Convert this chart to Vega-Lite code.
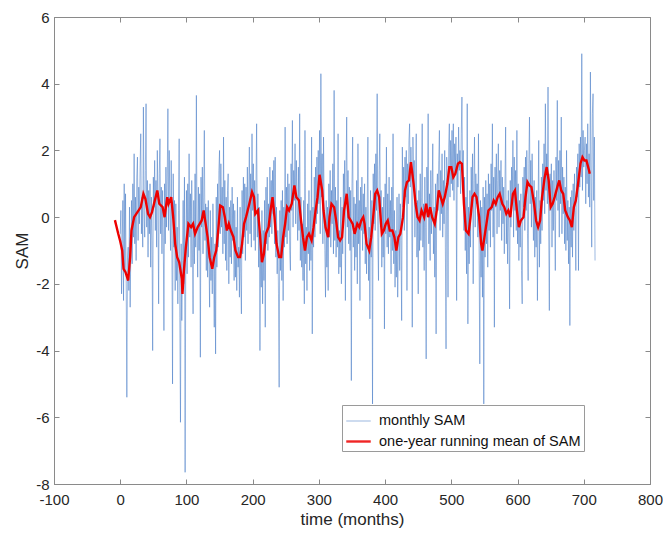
{
"$schema":"https://vega.github.io/schema/vega-lite/v6.json",
"width":596,"height":467,
"autosize":{"type":"none"},
"padding":{"left":54,"top":17,"right":13,"bottom":50},
"background":"white",
"config":{"view":{"stroke":"#8a8a8a","strokeWidth":1},"font":"Liberation Sans"},
"datasets":{
"monthly":[
{"t":0,"m":-0.5},{"t":1,"m":0.2},{"t":2,"m":-2.3},{"t":3,"m":-0.8},{"t":4,"m":0.5},{"t":5,"m":-2.5},{"t":6,"m":1.0},{"t":7,"m":-1.6},{"t":8,"m":0.7},{"t":9,"m":-2.0},{"t":10,"m":-5.4},{"t":11,"m":-1.2},
{"t":12,"m":-0.9},{"t":13,"m":-2.2},{"t":14,"m":0.3},{"t":15,"m":-2.7},{"t":16,"m":-1.0},{"t":17,"m":0.5},{"t":18,"m":-1.4},{"t":19,"m":1.0},{"t":20,"m":-0.6},{"t":21,"m":1.9},{"t":22,"m":-0.8},{"t":23,"m":0.6},
{"t":24,"m":-1.3},{"t":25,"m":1.2},{"t":26,"m":1.8},{"t":27,"m":-0.7},{"t":28,"m":0.9},{"t":29,"m":-0.2},{"t":30,"m":1.5},{"t":31,"m":2.5},{"t":32,"m":-0.5},{"t":33,"m":0.6},{"t":34,"m":-0.9},{"t":35,"m":3.3},
{"t":36,"m":0.2},{"t":37,"m":-0.6},{"t":38,"m":1.4},{"t":39,"m":3.4},{"t":40,"m":-0.3},{"t":41,"m":1.1},{"t":42,"m":-1.2},{"t":43,"m":0.8},{"t":44,"m":-0.5},{"t":45,"m":1.0},{"t":46,"m":-1.5},{"t":47,"m":0.6},
{"t":48,"m":-0.7},{"t":49,"m":-4.0},{"t":50,"m":1.2},{"t":51,"m":0.3},{"t":52,"m":1.7},{"t":53,"m":-0.4},{"t":54,"m":1.1},{"t":55,"m":-0.9},{"t":56,"m":2.0},{"t":57,"m":0.4},{"t":58,"m":-2.6},{"t":59,"m":1.3},
{"t":60,"m":2.35},{"t":61,"m":-0.5},{"t":62,"m":0.9},{"t":63,"m":-1.1},{"t":64,"m":0.8},{"t":65,"m":-0.6},{"t":66,"m":-3.4},{"t":67,"m":1.0},{"t":68,"m":-0.8},{"t":69,"m":1.5},{"t":70,"m":-0.3},{"t":71,"m":1.2},
{"t":72,"m":3.25},{"t":73,"m":-0.4},{"t":74,"m":2.0},{"t":75,"m":0.3},{"t":76,"m":-1.0},{"t":77,"m":1.7},{"t":78,"m":-0.7},{"t":79,"m":-5.0},{"t":80,"m":1.3},{"t":81,"m":-0.9},{"t":82,"m":0.5},{"t":83,"m":-2.2},
{"t":84,"m":0.4},{"t":85,"m":-1.9},{"t":86,"m":-0.3},{"t":87,"m":-2.6},{"t":88,"m":0.2},{"t":89,"m":2.35},{"t":90,"m":-3.0},{"t":91,"m":-6.15},{"t":92,"m":-0.8},{"t":93,"m":-3.1},{"t":94,"m":-1.3},{"t":95,"m":0.5},
{"t":96,"m":-2.0},{"t":97,"m":1.2},{"t":98,"m":-7.65},{"t":99,"m":-1.0},{"t":100,"m":0.8},{"t":101,"m":-1.7},{"t":102,"m":1.0},{"t":103,"m":-1.2},{"t":104,"m":1.9},{"t":105,"m":-0.6},{"t":106,"m":0.7},{"t":107,"m":-1.5},
{"t":108,"m":1.1},{"t":109,"m":-0.8},{"t":110,"m":-2.9},{"t":111,"m":0.5},{"t":112,"m":-1.4},{"t":113,"m":1.3},{"t":114,"m":-0.9},{"t":115,"m":3.65},{"t":116,"m":-0.5},{"t":117,"m":-1.8},{"t":118,"m":0.9},{"t":119,"m":-1.0},
{"t":120,"m":0.7},{"t":121,"m":-4.2},{"t":122,"m":1.2},{"t":123,"m":-0.3},{"t":124,"m":1.5},{"t":125,"m":-1.1},{"t":126,"m":0.6},{"t":127,"m":2.6},{"t":128,"m":-0.7},{"t":129,"m":0.4},{"t":130,"m":-1.6},{"t":131,"m":0.3},
{"t":132,"m":-1.8},{"t":133,"m":0.5},{"t":134,"m":-1.2},{"t":135,"m":-2.7},{"t":136,"m":0.2},{"t":137,"m":-1.9},{"t":138,"m":-0.6},{"t":139,"m":-2.3},{"t":140,"m":0.4},{"t":141,"m":-1.4},{"t":142,"m":-3.3},{"t":143,"m":-0.8},
{"t":144,"m":-4.1},{"t":145,"m":0.6},{"t":146,"m":-1.5},{"t":147,"m":1.0},{"t":148,"m":-0.9},{"t":149,"m":1.4},{"t":150,"m":2.0},{"t":151,"m":-0.5},{"t":152,"m":1.6},{"t":153,"m":-0.3},{"t":154,"m":0.9},{"t":155,"m":-1.1},
{"t":156,"m":2.4},{"t":157,"m":-0.8},{"t":158,"m":1.1},{"t":159,"m":-1.3},{"t":160,"m":0.6},{"t":161,"m":-1.6},{"t":162,"m":0.8},{"t":163,"m":1.3},{"t":164,"m":-2.0},{"t":165,"m":0.3},{"t":166,"m":-1.2},{"t":167,"m":0.5},
{"t":168,"m":-1.4},{"t":169,"m":0.9},{"t":170,"m":-0.7},{"t":171,"m":0.4},{"t":172,"m":-1.9},{"t":173,"m":0.2},{"t":174,"m":-1.8},{"t":175,"m":-0.3},{"t":176,"m":-2.2},{"t":177,"m":0.6},{"t":178,"m":-1.5},{"t":179,"m":-0.9},
{"t":180,"m":-2.4},{"t":181,"m":0.3},{"t":182,"m":-1.7},{"t":183,"m":-2.9},{"t":184,"m":0.8},{"t":185,"m":-1.1},{"t":186,"m":1.2},{"t":187,"m":-0.6},{"t":188,"m":1.0},{"t":189,"m":-1.3},{"t":190,"m":0.9},{"t":191,"m":-0.4},
{"t":192,"m":1.5},{"t":193,"m":-0.8},{"t":194,"m":0.6},{"t":195,"m":2.1},{"t":196,"m":-0.5},{"t":197,"m":1.3},{"t":198,"m":-0.9},{"t":199,"m":2.5},{"t":200,"m":0.2},{"t":201,"m":1.6},{"t":202,"m":-0.7},{"t":203,"m":1.1},
{"t":204,"m":-1.0},{"t":205,"m":0.9},{"t":206,"m":2.8},{"t":207,"m":-0.6},{"t":208,"m":0.7},{"t":209,"m":-1.5},{"t":210,"m":0.3},{"t":211,"m":-4.0},{"t":212,"m":-0.5},{"t":213,"m":-2.1},{"t":214,"m":0.2},{"t":215,"m":-2.6},
{"t":216,"m":-0.4},{"t":217,"m":-1.9},{"t":218,"m":0.5},{"t":219,"m":-3.3},{"t":220,"m":0.9},{"t":221,"m":-0.8},{"t":222,"m":1.2},{"t":223,"m":-1.0},{"t":224,"m":0.4},{"t":225,"m":-0.6},{"t":226,"m":1.5},{"t":227,"m":-0.3},
{"t":228,"m":1.1},{"t":229,"m":-0.5},{"t":230,"m":1.4},{"t":231,"m":0.1},{"t":232,"m":1.7},{"t":233,"m":-0.8},{"t":234,"m":1.8},{"t":235,"m":-1.2},{"t":236,"m":0.3},{"t":237,"m":-1.7},{"t":238,"m":-0.4},{"t":239,"m":-2.3},
{"t":240,"m":-5.1},{"t":241,"m":0.2},{"t":242,"m":-1.6},{"t":243,"m":0.5},{"t":244,"m":-1.9},{"t":245,"m":0.8},{"t":246,"m":-2.5},{"t":247,"m":0.3},{"t":248,"m":-0.9},{"t":249,"m":2.7},{"t":250,"m":-0.6},{"t":251,"m":0.9},
{"t":252,"m":-0.8},{"t":253,"m":1.3},{"t":254,"m":-0.4},{"t":255,"m":1.0},{"t":256,"m":-1.0},{"t":257,"m":-1.6},{"t":258,"m":1.6},{"t":259,"m":0.2},{"t":260,"m":2.9},{"t":261,"m":-0.3},{"t":262,"m":1.4},{"t":263,"m":0.5},
{"t":264,"m":2.2},{"t":265,"m":-0.2},{"t":266,"m":1.7},{"t":267,"m":0.4},{"t":268,"m":-0.7},{"t":269,"m":1.5},{"t":270,"m":-0.4},{"t":271,"m":3.1},{"t":272,"m":-1.3},{"t":273,"m":0.6},{"t":274,"m":-1.5},{"t":275,"m":-0.2},
{"t":276,"m":-1.9},{"t":277,"m":0.5},{"t":278,"m":-2.6},{"t":279,"m":2.6},{"t":280,"m":-1.4},{"t":281,"m":-0.3},{"t":282,"m":-2.2},{"t":283,"m":0.4},{"t":284,"m":-1.1},{"t":285,"m":0.8},{"t":286,"m":-1.6},{"t":287,"m":0.2},
{"t":288,"m":-1.3},{"t":289,"m":2.4},{"t":290,"m":-3.5},{"t":291,"m":0.3},{"t":292,"m":-0.9},{"t":293,"m":1.2},{"t":294,"m":-0.6},{"t":295,"m":1.5},{"t":296,"m":-0.2},{"t":297,"m":1.8},{"t":298,"m":0.1},{"t":299,"m":2.0},
{"t":300,"m":0.4},{"t":301,"m":2.6},{"t":302,"m":-0.5},{"t":303,"m":4.3},{"t":304,"m":0.6},{"t":305,"m":1.9},{"t":306,"m":-0.8},{"t":307,"m":2.4},{"t":308,"m":0.2},{"t":309,"m":-1.0},{"t":310,"m":-2.4},{"t":311,"m":0.5},
{"t":312,"m":-1.5},{"t":313,"m":0.3},{"t":314,"m":-2.2},{"t":315,"m":1.0},{"t":316,"m":-0.6},{"t":317,"m":1.4},{"t":318,"m":-0.9},{"t":319,"m":0.8},{"t":320,"m":-0.2},{"t":321,"m":1.6},{"t":322,"m":-1.1},{"t":323,"m":3.8},
{"t":324,"m":-0.7},{"t":325,"m":0.9},{"t":326,"m":-1.2},{"t":327,"m":0.5},{"t":328,"m":-0.9},{"t":329,"m":2.5},{"t":330,"m":-1.7},{"t":331,"m":-0.4},{"t":332,"m":-1.5},{"t":333,"m":0.6},{"t":334,"m":-2.0},{"t":335,"m":0.3},
{"t":336,"m":-1.1},{"t":337,"m":1.3},{"t":338,"m":0.2},{"t":339,"m":1.7},{"t":340,"m":-2.5},{"t":341,"m":1.2},{"t":342,"m":3.0},{"t":343,"m":-0.3},{"t":344,"m":1.4},{"t":345,"m":-0.8},{"t":346,"m":0.9},{"t":347,"m":-1.0},
{"t":348,"m":0.8},{"t":349,"m":-4.9},{"t":350,"m":1.0},{"t":351,"m":2.4},{"t":352,"m":-0.9},{"t":353,"m":0.6},{"t":354,"m":-1.6},{"t":355,"m":0.4},{"t":356,"m":-1.2},{"t":357,"m":1.1},{"t":358,"m":-2.0},{"t":359,"m":2.2},
{"t":360,"m":-0.8},{"t":361,"m":0.5},{"t":362,"m":-2.5},{"t":363,"m":0.9},{"t":364,"m":-0.4},{"t":365,"m":1.2},{"t":366,"m":-1.0},{"t":367,"m":0.7},{"t":368,"m":-0.5},{"t":369,"m":1.0},{"t":370,"m":-1.4},{"t":371,"m":0.3},
{"t":372,"m":-1.7},{"t":373,"m":0.4},{"t":374,"m":2.4},{"t":375,"m":-1.9},{"t":376,"m":-0.3},{"t":377,"m":-3.05},{"t":378,"m":0.8},{"t":379,"m":-1.2},{"t":380,"m":0.5},{"t":381,"m":-5.6},{"t":382,"m":1.3},{"t":383,"m":-0.2},
{"t":384,"m":1.6},{"t":385,"m":-0.4},{"t":386,"m":1.9},{"t":387,"m":0.2},{"t":388,"m":3.7},{"t":389,"m":-0.6},{"t":390,"m":-1.9},{"t":391,"m":1.4},{"t":392,"m":2.5},{"t":393,"m":-0.3},{"t":394,"m":0.8},{"t":395,"m":-1.5},
{"t":396,"m":0.3},{"t":397,"m":-1.2},{"t":398,"m":0.6},{"t":399,"m":-3.35},{"t":400,"m":1.0},{"t":401,"m":-0.5},{"t":402,"m":2.1},{"t":403,"m":-0.9},{"t":404,"m":0.7},{"t":405,"m":-1.1},{"t":406,"m":1.2},{"t":407,"m":-0.6},
{"t":408,"m":0.5},{"t":409,"m":-1.7},{"t":410,"m":0.9},{"t":411,"m":-1.0},{"t":412,"m":2.5},{"t":413,"m":-1.4},{"t":414,"m":0.2},{"t":415,"m":-2.1},{"t":416,"m":-0.4},{"t":417,"m":-1.8},{"t":418,"m":0.6},{"t":419,"m":-2.4},
{"t":420,"m":-0.9},{"t":421,"m":0.7},{"t":422,"m":-1.6},{"t":423,"m":0.4},{"t":424,"m":-0.7},{"t":425,"m":-3.1},{"t":426,"m":2.1},{"t":427,"m":0.3},{"t":428,"m":1.5},{"t":429,"m":-0.4},{"t":430,"m":1.8},{"t":431,"m":0.6},
{"t":432,"m":2.0},{"t":433,"m":-2.2},{"t":434,"m":1.6},{"t":435,"m":0.4},{"t":436,"m":2.3},{"t":437,"m":2.8},{"t":438,"m":0.9},{"t":439,"m":2.1},{"t":440,"m":1.2},{"t":441,"m":-3.3},{"t":442,"m":2.4},{"t":443,"m":1.0},
{"t":444,"m":1.7},{"t":445,"m":-0.6},{"t":446,"m":0.9},{"t":447,"m":2.5},{"t":448,"m":-1.2},{"t":449,"m":0.5},{"t":450,"m":-2.3},{"t":451,"m":0.8},{"t":452,"m":-1.0},{"t":453,"m":1.3},{"t":454,"m":-0.7},{"t":455,"m":0.6},
{"t":456,"m":2.8},{"t":457,"m":-0.9},{"t":458,"m":0.4},{"t":459,"m":-1.6},{"t":460,"m":1.2},{"t":461,"m":-0.3},{"t":462,"m":-4.25},{"t":463,"m":1.5},{"t":464,"m":0.2},{"t":465,"m":3.1},{"t":466,"m":-0.8},{"t":467,"m":0.7},
{"t":468,"m":-1.3},{"t":469,"m":1.4},{"t":470,"m":-0.5},{"t":471,"m":0.8},{"t":472,"m":2.2},{"t":473,"m":-1.1},{"t":474,"m":0.3},{"t":475,"m":-1.8},{"t":476,"m":1.0},{"t":477,"m":-3.5},{"t":478,"m":0.9},{"t":479,"m":1.3},
{"t":480,"m":0.2},{"t":481,"m":1.7},{"t":482,"m":2.6},{"t":483,"m":-0.4},{"t":484,"m":1.4},{"t":485,"m":0.1},{"t":486,"m":1.9},{"t":487,"m":-0.6},{"t":488,"m":1.1},{"t":489,"m":-0.2},{"t":490,"m":2.0},{"t":491,"m":-0.9},
{"t":492,"m":-3.95},{"t":493,"m":1.8},{"t":494,"m":1.2},{"t":495,"m":-2.4},{"t":496,"m":2.1},{"t":497,"m":2.8},{"t":498,"m":0.6},{"t":499,"m":2.3},{"t":500,"m":1.0},{"t":501,"m":2.6},{"t":502,"m":0.8},{"t":503,"m":2.8},
{"t":504,"m":0.5},{"t":505,"m":2.2},{"t":506,"m":1.3},{"t":507,"m":2.4},{"t":508,"m":-2.5},{"t":509,"m":1.9},{"t":510,"m":0.9},{"t":511,"m":2.7},{"t":512,"m":1.4},{"t":513,"m":2.0},{"t":514,"m":0.7},{"t":515,"m":2.5},
{"t":516,"m":3.6},{"t":517,"m":1.1},{"t":518,"m":2.0},{"t":519,"m":-0.4},{"t":520,"m":1.2},{"t":521,"m":-1.0},{"t":522,"m":0.6},{"t":523,"m":-1.7},{"t":524,"m":3.4},{"t":525,"m":-3.2},{"t":526,"m":0.3},{"t":527,"m":-1.4},
{"t":528,"m":0.8},{"t":529,"m":-0.9},{"t":530,"m":1.5},{"t":531,"m":0.3},{"t":532,"m":1.9},{"t":533,"m":-2.0},{"t":534,"m":1.1},{"t":535,"m":2.4},{"t":536,"m":-0.3},{"t":537,"m":1.3},{"t":538,"m":0.4},{"t":539,"m":1.0},
{"t":540,"m":-0.6},{"t":541,"m":2.5},{"t":542,"m":-1.3},{"t":543,"m":-4.4},{"t":544,"m":0.5},{"t":545,"m":-1.8},{"t":546,"m":0.3},{"t":547,"m":-2.4},{"t":548,"m":0.9},{"t":549,"m":-5.6},{"t":550,"m":0.6},{"t":551,"m":-1.2},
{"t":552,"m":1.1},{"t":553,"m":-0.8},{"t":554,"m":0.7},{"t":555,"m":-1.5},{"t":556,"m":1.3},{"t":557,"m":-0.4},{"t":558,"m":1.0},{"t":559,"m":-0.9},{"t":560,"m":1.6},{"t":561,"m":0.2},{"t":562,"m":2.8},{"t":563,"m":-0.6},
{"t":564,"m":1.2},{"t":565,"m":-3.3},{"t":566,"m":1.5},{"t":567,"m":0.3},{"t":568,"m":1.9},{"t":569,"m":-0.5},{"t":570,"m":1.1},{"t":571,"m":2.2},{"t":572,"m":-0.3},{"t":573,"m":1.4},{"t":574,"m":0.2},{"t":575,"m":1.7},
{"t":576,"m":-0.7},{"t":577,"m":1.2},{"t":578,"m":-0.2},{"t":579,"m":0.9},{"t":580,"m":-1.1},{"t":581,"m":1.0},{"t":582,"m":2.7},{"t":583,"m":-0.8},{"t":584,"m":0.5},{"t":585,"m":-1.4},{"t":586,"m":0.8},{"t":587,"m":-0.5},
{"t":588,"m":-2.75},{"t":589,"m":1.1},{"t":590,"m":-0.3},{"t":591,"m":1.5},{"t":592,"m":0.4},{"t":593,"m":2.3},{"t":594,"m":-0.6},{"t":595,"m":1.8},{"t":596,"m":0.2},{"t":597,"m":1.4},{"t":598,"m":-0.4},{"t":599,"m":2.6},
{"t":600,"m":-0.8},{"t":601,"m":1.0},{"t":602,"m":-1.3},{"t":603,"m":0.5},{"t":604,"m":-0.9},{"t":605,"m":0.7},{"t":606,"m":-1.6},{"t":607,"m":-2.6},{"t":608,"m":1.2},{"t":609,"m":0.3},{"t":610,"m":1.5},{"t":611,"m":-0.4},
{"t":612,"m":1.8},{"t":613,"m":0.2},{"t":614,"m":2.0},{"t":615,"m":-0.5},{"t":616,"m":-1.9},{"t":617,"m":1.6},{"t":618,"m":3.0},{"t":619,"m":0.4},{"t":620,"m":1.7},{"t":621,"m":-0.3},{"t":622,"m":1.9},{"t":623,"m":0.6},
{"t":624,"m":-0.7},{"t":625,"m":1.1},{"t":626,"m":-1.2},{"t":627,"m":0.6},{"t":628,"m":-0.9},{"t":629,"m":0.8},{"t":630,"m":-2.5},{"t":631,"m":0.3},{"t":632,"m":2.3},{"t":633,"m":-1.5},{"t":634,"m":0.5},{"t":635,"m":-0.8},
{"t":636,"m":1.2},{"t":637,"m":-0.4},{"t":638,"m":1.6},{"t":639,"m":0.5},{"t":640,"m":2.2},{"t":641,"m":0.1},{"t":642,"m":3.4},{"t":643,"m":0.8},{"t":644,"m":1.9},{"t":645,"m":0.4},{"t":646,"m":3.9},{"t":647,"m":-0.3},
{"t":648,"m":-2.8},{"t":649,"m":1.3},{"t":650,"m":0.2},{"t":651,"m":1.6},{"t":652,"m":-0.9},{"t":653,"m":1.1},{"t":654,"m":-0.4},{"t":655,"m":1.4},{"t":656,"m":0.3},{"t":657,"m":-1.6},{"t":658,"m":1.8},{"t":659,"m":0.5},
{"t":660,"m":3.5},{"t":661,"m":0.2},{"t":662,"m":1.7},{"t":663,"m":-0.6},{"t":664,"m":2.0},{"t":665,"m":0.4},{"t":666,"m":3.0},{"t":667,"m":-0.5},{"t":668,"m":1.5},{"t":669,"m":0.1},{"t":670,"m":1.2},{"t":671,"m":-0.8},
{"t":672,"m":0.9},{"t":673,"m":-1.0},{"t":674,"m":2.0},{"t":675,"m":-0.7},{"t":676,"m":0.5},{"t":677,"m":-1.4},{"t":678,"m":0.3},{"t":679,"m":-3.25},{"t":680,"m":0.6},{"t":681,"m":-0.9},{"t":682,"m":0.8},{"t":683,"m":-1.2},
{"t":684,"m":1.0},{"t":685,"m":-0.4},{"t":686,"m":1.3},{"t":687,"m":0.2},{"t":688,"m":-1.6},{"t":689,"m":1.5},{"t":690,"m":0.6},{"t":691,"m":1.9},{"t":692,"m":-1.6},{"t":693,"m":2.2},{"t":694,"m":0.9},{"t":695,"m":2.4},
{"t":696,"m":1.2},{"t":697,"m":4.9},{"t":698,"m":0.8},{"t":699,"m":2.6},{"t":700,"m":1.5},{"t":701,"m":2.0},{"t":702,"m":2.4},{"t":703,"m":0.4},{"t":704,"m":2.2},{"t":705,"m":1.0},{"t":706,"m":2.8},{"t":707,"m":0.6},
{"t":708,"m":1.9},{"t":709,"m":0.3},{"t":710,"m":4.35},{"t":711,"m":1.2},{"t":712,"m":-0.9},{"t":713,"m":3.1},{"t":714,"m":3.7},{"t":715,"m":0.5},{"t":716,"m":2.4},{"t":717,"m":-1.3}
],
"mean":[
{"t":-8,"r":-0.09},{"t":-3,"r":-0.5},{"t":0,"r":-0.72},{"t":3,"r":-1.0},{"t":5,"r":-1.55},{"t":8,"r":-1.65},{"t":12,"r":-1.9},{"t":15,"r":-1.2},{"t":17,"r":-0.4},{"t":21,"r":0},{"t":26,"r":0.15},{"t":31,"r":0.3},{"t":35,"r":0.7},{"t":38,"r":0.55},{"t":42,"r":0.1},{"t":45,"r":0},{"t":48,"r":0.15},{"t":51,"r":0.4},{"t":56,"r":0.8},{"t":59,"r":0.4},{"t":64,"r":0.3},{"t":67,"r":0},{"t":71,"r":0.6},{"t":73,"r":0.4},{"t":77,"r":0.6},{"t":80,"r":0},{"t":83,"r":-0.8},{"t":86,"r":-1.2},{"t":89,"r":-1.35},{"t":93,"r":-1.85},{"t":94,"r":-2.3},{"t":96,"r":-1.65},{"t":99,"r":-0.93},{"t":103,"r":-0.2},{"t":107,"r":-0.3},{"t":110,"r":-0.2},{"t":113,"r":-0.5},{"t":117,"r":-0.3},{"t":120,"r":-0.2},{"t":123,"r":-0.1},{"t":126,"r":0.2},{"t":129,"r":-0.2},{"t":132,"r":-0.6},{"t":135,"r":-1.2},{"t":139,"r":-1.55},{"t":142,"r":-1.2},{"t":145,"r":-1.0},{"t":148,"r":-0.4},{"t":151,"r":0.35},{"t":155,"r":0.3},{"t":158,"r":0},{"t":161,"r":-0.4},{"t":164,"r":-0.2},{"t":167,"r":-0.4},{"t":171,"r":-0.6},{"t":174,"r":-1.0},{"t":178,"r":-1.2},{"t":181,"r":-1.2},{"t":184,"r":-0.8},{"t":187,"r":-0.2},{"t":190,"r":0},{"t":195,"r":0.4},{"t":199,"r":0.75},{"t":202,"r":0.6},{"t":204,"r":0.1},{"t":208,"r":0.2},{"t":211,"r":-0.5},{"t":214,"r":-1.35},{"t":217,"r":-1.1},{"t":220,"r":-0.5},{"t":224,"r":-0.3},{"t":227,"r":0.2},{"t":230,"r":0.6},{"t":233,"r":0},{"t":236,"r":-0.8},{"t":240,"r":-1.2},{"t":243,"r":-1.2},{"t":246,"r":-0.6},{"t":249,"r":-0.2},{"t":252,"r":0.3},{"t":255,"r":0.2},{"t":259,"r":0.4},{"t":263,"r":0.95},{"t":266,"r":0.6},{"t":270,"r":0.5},{"t":273,"r":-0.1},{"t":276,"r":-0.6},{"t":279,"r":-1.0},{"t":282,"r":-0.6},{"t":285,"r":-0.5},{"t":289,"r":-0.7},{"t":292,"r":-0.3},{"t":295,"r":0.2},{"t":298,"r":0.6},{"t":301,"r":1.27},{"t":305,"r":0.8},{"t":307,"r":0.2},{"t":310,"r":-0.3},{"t":314,"r":-0.6},{"t":316,"r":0},{"t":319,"r":0.4},{"t":323,"r":0.3},{"t":326,"r":-0.1},{"t":329,"r":-0.6},{"t":332,"r":-0.7},{"t":335,"r":-0.6},{"t":338,"r":0.2},{"t":342,"r":0.7},{"t":345,"r":0},{"t":348,"r":-0.1},{"t":351,"r":-0.2},{"t":354,"r":-0.5},{"t":358,"r":-0.2},{"t":361,"r":-0.3},{"t":364,"r":-0.1},{"t":367,"r":0},{"t":369,"r":-0.2},{"t":372,"r":-0.8},{"t":376,"r":-1.0},{"t":379,"r":-0.6},{"t":382,"r":0},{"t":385,"r":0.7},{"t":388,"r":0.8},{"t":391,"r":0.6},{"t":395,"r":-0.5},{"t":398,"r":-0.4},{"t":401,"r":-0.2},{"t":404,"r":-0.1},{"t":407,"r":-0.4},{"t":411,"r":-0.4},{"t":414,"r":-0.6},{"t":417,"r":-1.0},{"t":420,"r":-0.6},{"t":423,"r":-0.5},{"t":427,"r":0},{"t":430,"r":0.8},{"t":433,"r":1.05},{"t":436,"r":1.1},{"t":439,"r":1.65},{"t":443,"r":1.0},{"t":446,"r":0.4},{"t":449,"r":0},{"t":452,"r":-0.1},{"t":455,"r":0.2},{"t":459,"r":0},{"t":462,"r":0.4},{"t":465,"r":0},{"t":468,"r":0.3},{"t":471,"r":0},{"t":475,"r":-0.2},{"t":478,"r":0.2},{"t":481,"r":0.8},{"t":484,"r":0.6},{"t":487,"r":0.4},{"t":490,"r":0.6},{"t":494,"r":1.0},{"t":497,"r":1.5},{"t":500,"r":1.5},{"t":503,"r":1.2},{"t":506,"r":1.3},{"t":510,"r":1.6},{"t":513,"r":1.65},{"t":516,"r":1.6},{"t":519,"r":0.4},{"t":522,"r":-0.4},{"t":526,"r":-0.5},{"t":529,"r":0},{"t":532,"r":0.6},{"t":535,"r":0.7},{"t":538,"r":0.6},{"t":542,"r":0},{"t":545,"r":-0.8},{"t":547,"r":-1.0},{"t":550,"r":-0.6},{"t":553,"r":-0.2},{"t":556,"r":0.2},{"t":561,"r":0.3},{"t":564,"r":0.5},{"t":567,"r":0.4},{"t":570,"r":0.6},{"t":573,"r":0.7},{"t":577,"r":0.4},{"t":580,"r":0.3},{"t":583,"r":0.1},{"t":586,"r":0.2},{"t":589,"r":0},{"t":593,"r":0.7},{"t":596,"r":0.8},{"t":599,"r":0.2},{"t":602,"r":-0.3},{"t":605,"r":-0.1},{"t":609,"r":0},{"t":612,"r":0.6},{"t":615,"r":1.05},{"t":618,"r":0.95},{"t":621,"r":0.9},{"t":625,"r":0.4},{"t":628,"r":-0.1},{"t":631,"r":-0.3},{"t":634,"r":-0.1},{"t":637,"r":0.6},{"t":641,"r":1.2},{"t":644,"r":1.5},{"t":647,"r":1.1},{"t":650,"r":0.3},{"t":653,"r":0.4},{"t":656,"r":0.6},{"t":660,"r":0.9},{"t":663,"r":1.1},{"t":666,"r":0.8},{"t":669,"r":0.7},{"t":672,"r":0.2},{"t":676,"r":0},{"t":679,"r":-0.1},{"t":682,"r":-0.3},{"t":685,"r":0.3},{"t":688,"r":0.5},{"t":692,"r":1.1},{"t":695,"r":1.6},{"t":698,"r":1.8},{"t":701,"r":1.7},{"t":704,"r":1.7},{"t":708,"r":1.4},{"t":709,"r":1.3}
]
},
"layer":[
{
"data":{"name":"monthly"},
"mark":{"type":"line","opacity":0.85,"strokeJoin":"miter"},
"encoding":{
"x":{"field":"t","type":"quantitative","scale":{"domain":[-100,800],"nice":false,"zero":false},
"axis":{"orient":"bottom","values":[-100,0,100,200,300,400,500,600,700,800],"labelExpr":"datum.value + ''","title":"time (months)","grid":false,"tickSize":-5,"labelPadding":13,"domainColor":"#8a8a8a","tickColor":"#8a8a8a","labelColor":"#262626","labelFontSize":15,"titleFontSize":17,"titleFontWeight":"normal","titleColor":"#262626","titlePadding":4,"labelFont":"Liberation Sans","titleFont":"Liberation Sans","labelFlush":false}},
"y":{"field":"m","type":"quantitative","scale":{"domain":[-8,6],"nice":false,"zero":false},
"axis":{"orient":"left","values":[-8,-6,-4,-2,0,2,4,6],"labelExpr":"datum.value + ''","title":"SAM","grid":false,"tickSize":-5,"labelPadding":10,"domainColor":"#8a8a8a","tickColor":"#8a8a8a","labelColor":"#262626","labelFontSize":15,"titleFontSize":17,"titleFontWeight":"normal","titleColor":"#262626","titlePadding":4,"labelFont":"Liberation Sans","titleFont":"Liberation Sans","labelFlush":false}},
"color":{"datum":"monthly SAM","type":"nominal","scale":{"domain":["monthly SAM","one-year running mean of SAM"],"range":["#3d74c4","#ee0000"]},
"legend":{"title":null,"orient":"none","legendX":288,"legendY":388,"symbolType":"stroke","symbolSize":600,"labelFontSize":14.5,"labelFont":"Liberation Sans","labelColor":"#111","labelLimit":0,"strokeColor":"#9a9a9a","fillColor":"white","padding":3,"rowPadding":0,"labelOffset":7}},
"strokeWidth":{"datum":"monthly SAM","type":"ordinal","scale":{"domain":["monthly SAM","one-year running mean of SAM"],"range":[0.6,2.4]},"legend":{"title":null,"orient":"none","legendX":288,"legendY":388,"symbolType":"stroke","symbolSize":600,"labelFontSize":14.5,"labelFont":"Liberation Sans","labelColor":"#111","labelLimit":0,"strokeColor":"#9a9a9a","fillColor":"white","padding":3,"rowPadding":0,"labelOffset":7}}
}
},
{
"data":{"name":"mean"},
"mark":{"type":"line"},
"encoding":{
"x":{"field":"t","type":"quantitative","axis":{"orient":"top","values":[-100,0,100,200,300,400,500,600,700,800],"labels":false,"title":null,"grid":false,"domain":false,"tickSize":-5,"tickColor":"#8a8a8a"}},
"y":{"field":"r","type":"quantitative","axis":{"orient":"right","values":[-8,-6,-4,-2,0,2,4,6],"labels":false,"title":null,"grid":false,"domain":false,"tickSize":-5,"tickColor":"#8a8a8a"}},
"color":{"datum":"one-year running mean of SAM","type":"nominal"},
"strokeWidth":{"datum":"one-year running mean of SAM","type":"ordinal"}
}
}
]
}
